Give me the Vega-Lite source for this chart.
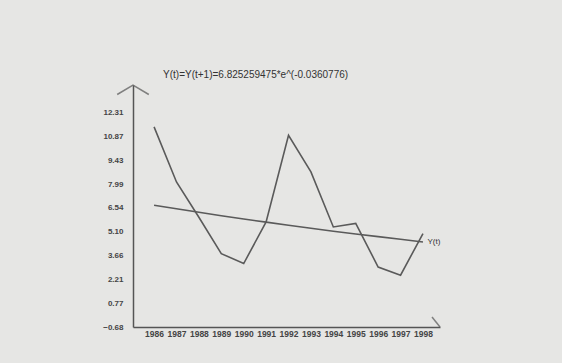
{
  "$schema": "https://vega.github.io/schema/vega-lite/v6.json",
  "width": 307,
  "height": 242,
  "autosize": {"type": "none"},
  "padding": {"left": 133, "top": 85, "right": 122, "bottom": 36},
  "background": "#e6e6e4",
  "config": {"view": {"stroke": null}, "font": "Liberation Sans"},
  "datasets": {
    "series": [
      {"year": 1986, "s": "actual", "value": 11.46},
      {"year": 1987, "s": "actual", "value": 8.12},
      {"year": 1988, "s": "actual", "value": 5.98},
      {"year": 1989, "s": "actual", "value": 3.77},
      {"year": 1990, "s": "actual", "value": 3.17},
      {"year": 1991, "s": "actual", "value": 5.69},
      {"year": 1992, "s": "actual", "value": 10.95},
      {"year": 1993, "s": "actual", "value": 8.73},
      {"year": 1994, "s": "actual", "value": 5.39},
      {"year": 1995, "s": "actual", "value": 5.60},
      {"year": 1996, "s": "actual", "value": 2.96},
      {"year": 1997, "s": "actual", "value": 2.46},
      {"year": 1998, "s": "actual", "value": 4.99},
      {"year": 1986, "s": "fit", "value": 6.71},
      {"year": 1987, "s": "fit", "value": 6.49},
      {"year": 1988, "s": "fit", "value": 6.28},
      {"year": 1989, "s": "fit", "value": 6.07},
      {"year": 1990, "s": "fit", "value": 5.87},
      {"year": 1991, "s": "fit", "value": 5.68},
      {"year": 1992, "s": "fit", "value": 5.49},
      {"year": 1993, "s": "fit", "value": 5.31},
      {"year": 1994, "s": "fit", "value": 5.13},
      {"year": 1995, "s": "fit", "value": 4.96},
      {"year": 1996, "s": "fit", "value": 4.80},
      {"year": 1997, "s": "fit", "value": 4.64},
      {"year": 1998, "s": "fit", "value": 4.48}
    ],
    "arrows": [
      {"year": 1985.06, "value": 14.0, "dir": "up"},
      {"year": 1998.76, "value": -0.68, "dir": "right"}
    ],
    "labels": [
      {"year": 1998.2, "value": 4.48, "text": "Y(t)", "size": 8},
      {"year": 1986.4, "value": 14.6, "text": "Y(t)=Y(t+1)=6.825259475*e^(-0.0360776)", "size": 10}
    ]
  },
  "layer": [
    {
      "data": {"name": "series"},
      "mark": {"type": "line", "color": "#5a5a5a", "strokeWidth": 1.6},
      "encoding": {
        "x": {"field": "year", "type": "quantitative",
              "scale": {"domain": [1985.06, 1998.76], "nice": false, "zero": false},
              "axis": {"title": null, "values": [1986,1987,1988,1989,1990,1991,1992,1993,1994,1995,1996,1997,1998], "tickCount": 30, "format": "d", "ticks": false, "grid": false, "domainColor": "#555", "domainWidth": 1.5, "labelFontSize": 8.5, "labelFontWeight": "bold", "labelColor": "#444", "labelPadding": 2, "labelOverlap": false, "labelBound": false, "labelFlush": false}},
        "y": {"field": "value", "type": "quantitative",
              "scale": {"domain": [-0.68, 14.0], "nice": false, "zero": false},
              "axis": {"title": null, "values": [-0.68, 0.77, 2.21, 3.66, 5.10, 6.54, 7.99, 9.43, 10.87, 12.31], "tickCount": 30, "format": ".2f", "ticks": false, "grid": false, "domainColor": "#555", "domainWidth": 1.5, "labelFontSize": 8, "labelFontWeight": "bold", "labelColor": "#444", "labelPadding": 10, "labelOverlap": false, "labelBound": false, "labelFlush": false}},
        "detail": {"field": "s", "type": "nominal"}
      }
    },
    {
      "data": {"name": "arrows"},
      "transform": [{"filter": "datum.dir == 'up'"}],
      "mark": {"type": "point", "shape": "M-1,0.6L0,0L1,0.6", "filled": false, "size": 1000, "stroke": "#555", "strokeWidth": 1.5, "clip": false},
      "encoding": {
        "x": {"field": "year", "type": "quantitative"},
        "y": {"field": "value", "type": "quantitative"}
      }
    },
    {
      "data": {"name": "arrows"},
      "transform": [{"filter": "datum.dir == 'right'"}],
      "mark": {"type": "point", "shape": "M-0.8,-1L0,0", "filled": false, "size": 400, "stroke": "#555", "strokeWidth": 1.5, "clip": false},
      "encoding": {
        "x": {"field": "year", "type": "quantitative"},
        "y": {"field": "value", "type": "quantitative"}
      }
    },
    {
      "data": {"name": "labels"},
      "mark": {"type": "text", "align": "left", "baseline": "middle", "color": "#333", "clip": false},
      "encoding": {
        "x": {"field": "year", "type": "quantitative"},
        "y": {"field": "value", "type": "quantitative"},
        "text": {"field": "text"},
        "size": {"field": "size", "type": "quantitative", "scale": null}
      }
    }
  ]
}
